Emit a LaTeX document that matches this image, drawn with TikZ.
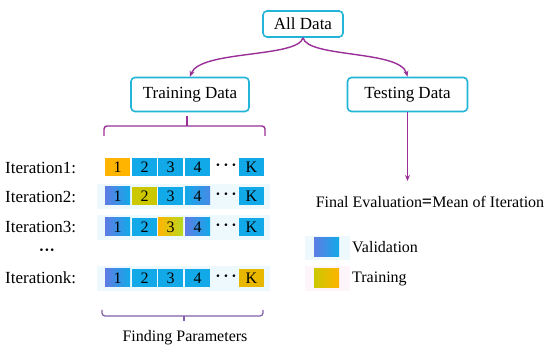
\documentclass[tikz,border=0pt]{standalone}
\usepackage{fontspec}
\setmainfont{Liberation Serif}
\usetikzlibrary{arrows.meta}
\definecolor{bcyan}{HTML}{22B5D8}
\definecolor{purp}{HTML}{9A2F98}
\definecolor{lpurp}{HTML}{8060AA}
\definecolor{valc}{HTML}{12A9E8}
\definecolor{valv}{HTML}{5E7CE4}
\definecolor{trno}{HTML}{FFB400}
\definecolor{trol}{HTML}{CBC800}
\definecolor{trgr}{HTML}{B8D820}
\definecolor{trgd}{HTML}{E8B800}
\begin{document}
\begin{tikzpicture}[x=1pt,y=-1pt,
  databox/.style={draw=bcyan, line width=1.6pt, rounded corners=4pt, fill=white,
    font=\fontsize{17}{20}\selectfont, inner sep=0pt},
  cell/.style={minimum width=25pt, minimum height=18pt, inner sep=0pt,
    font=\fontsize{16}{16}\selectfont, fill=valc},
  vshade/.style={left color=valv, right color=valc},
  lbl/.style={anchor=west, inner sep=0pt, font=\fontsize{17}{20}\selectfont},
  txt/.style={inner sep=0pt, font=\fontsize{16}{19}\selectfont},
  dotsn/.style={inner sep=0pt, font=\fontsize{16}{16}\selectfont\bfseries},
  arr/.style={draw=purp, line width=1.4pt, -{Stealth[length=6pt,width=5pt]}},
  bracel/.style={draw=purp, line width=1.4pt, rounded corners=3pt},
  bracelow/.style={draw=lpurp, line width=1.2pt, rounded corners=3pt},
  glow/.style={fill=valc!7, draw=none}
]
\useasboundingbox (0,0) rectangle (550,352);
\fill[white] (0,0) rectangle (550,352);

% faint backgrounds
\path[glow] (97,184) rectangle (270,209);
\path[glow] (97,215) rectangle (270,240);
\path[glow] (97,266) rectangle (270,291);
\path[glow] (305,236) rectangle (350,260);
\path[fill=magenta!4] (305,266) rectangle (350,291);

% boxes
\node[databox, minimum width=80pt, minimum height=26pt] (alld) at (303,24) {All Data};
\node[databox, minimum width=118pt, minimum height=34pt] (train) at (190,94.5) {Training Data};
\node[databox, minimum width=120pt, minimum height=34pt] (test) at (407.5,94.5) {Testing Data};

% arrows
\draw[arr] (alld.south) .. controls (298,58) and (200,50) .. (train.north);
\draw[arr] (alld.south) .. controls (308,58) and (400,50) .. (test.north);
\coordinate (fe) at (407.5,181);
\draw[arr] (test.south) -- (fe);

% top brace
\coordinate (tb) at (187,116);
\coordinate (tbm) at (187,126);
\draw[bracel] (104,136) -- (104,126) -- (265,126) -- (265,136);
\draw[bracel] (tb) -- (tbm);

% iteration labels
\node[lbl] (l1) at (5,168) {Iteration1:};
\node[lbl] (l2) at (5,197) {Iteration2:};
\node[lbl] (l3) at (5,227) {Iteration3:};
\node[dotsn] (ld) at (47,252) {···};
\node[lbl] (lk) at (5,278) {Iterationk:};

% row 1
\node[cell, fill=trno] (b11) at (117.5,167) {1};
\node[cell] (b12) at (144.5,167) {2};
\node[cell] (b13) at (170.5,167) {3};
\node[cell] (b14) at (197.5,167) {4};
\node[dotsn] (d1) at (226,167) {·\,·\,·};
\node[cell] (b1k) at (251.5,167) {K};

% row 2
\node[cell, vshade] (b21) at (117.5,196) {1};
\node[cell, fill=trol] (b22) at (144.5,196) {2};
\node[cell] (b23) at (170.5,196) {3};
\node[cell, left color=valc, right color=valv!70!valc] (b24) at (197.5,196) {4};
\node[dotsn] (d2) at (226,196) {·\,·\,·};
\node[cell] (b2k) at (251.5,196) {K};

% row 3
\node[cell, vshade] (b31) at (117.5,227) {1};
\node[cell] (b32) at (144.5,227) {2};
\node[cell, left color=trno, right color=trgr] (b33) at (170.5,227) {3};
\node[cell, vshade] (b34) at (197.5,227) {4};
\node[dotsn] (d3) at (226,227) {·\,·\,·};
\node[cell] (b3k) at (251.5,227) {K};

% row k
\node[cell, vshade] (bk1) at (117.5,278) {1};
\node[cell] (bk2) at (144.5,278) {2};
\node[cell] (bk3) at (170.5,278) {3};
\node[cell] (bk4) at (197.5,278) {4};
\node[dotsn] (dk) at (226,278) {·\,·\,·};
\node[cell, fill=trgd] (bkk) at (251.5,278) {K};

% bottom brace
\coordinate (bb) at (184,321);
\coordinate (bbm) at (184,316);
\draw[bracelow] (102,310) -- (102,316) -- (263,316) -- (263,310);
\draw[bracelow] (bbm) -- (bb);
\node[txt] (fp) at (185,338) {Finding Parameters};

% final evaluation
\node[txt] (fin) at (430,202) {Final Evaluation{\fontsize{18}{18}\selectfont\bfseries=}Mean of Iteration};

% legend
\node[cell, minimum width=25pt, minimum height=19pt, vshade] (lv) at (326.5,247.5) {};
\node[txt, anchor=west] (lvt) at (352,247) {Validation};
\node[cell, minimum width=25pt, minimum height=19pt, left color=trol, right color=trno] (lt) at (326.5,278.5) {};
\node[txt, anchor=west] (ltt) at (352,279) {Training};
\end{tikzpicture}
\end{document}
